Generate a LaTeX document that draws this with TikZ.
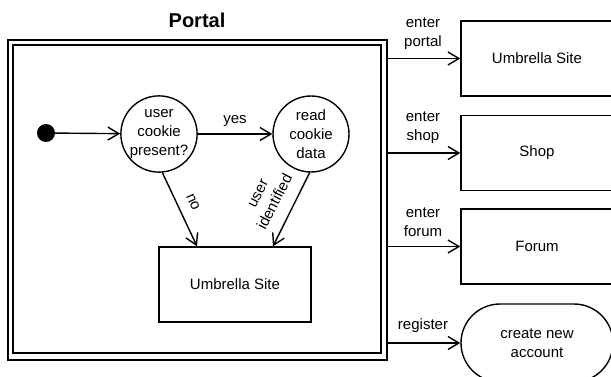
\documentclass[tikz,border=0pt]{standalone}
\usepackage{fontspec}
\setmainfont{Liberation Sans}
\usetikzlibrary{arrows.meta,shapes.misc}
\begin{document}
\begin{tikzpicture}[x=1pt,y=-1pt,
  lw/.style={line width=1.4pt},
  txt/.style={font=\fontsize{15}{19}\selectfont, align=center},
  boxnode/.style={lw, draw, rectangle, minimum width=152pt, minimum height=75pt, txt, inner sep=0pt},
  statenode/.style={lw, draw, circle, minimum size=76pt, inner sep=0pt, txt},
  arr/.style={lw, -{Straight Barb[length=11pt,width=13pt,line width=1.4pt]}},
  lbl/.style={txt, inner sep=0pt}
]
\clip (0,0) rectangle (611,377);
\useasboundingbox (0,0) rectangle (611,377);

% title
\node[font=\fontsize{20}{24}\selectfont\bfseries] (title) at (197,20) {Portal};

% portal frame
\node[lw, draw, rectangle, minimum width=379pt, minimum height=320pt, inner sep=0pt] (portal) at (197.5,200) {};
\node[lw, draw, rectangle, minimum width=368pt, minimum height=308pt, inner sep=0pt] (portalin) at (197,199) {};

% inner states
\node[circle, fill=black, minimum size=18pt, inner sep=0pt] (start) at (46,133) {};
\node[statenode] (c1) at (159,134) {user\\cookie\\present?};
\node[statenode] (c2) at (311,134) {read\\cookie\\data};
\node[boxnode] (ub) at (235,284.5) {Umbrella Site};

\draw[arr] (start) -- (c1);
\draw[arr] (c1) -- node[lbl, above=7pt] (yes) {yes} (c2);
\draw[arr] (c1.-85) -- ([xshift=-38pt]ub.north);
\draw[arr] (c2.-92) -- ([xshift=38pt]ub.north);
\node[lbl, rotate=-65] (no) at (193,202) {no};
\node[lbl, rotate=63] (uid) at (267,198) {user\\identified};

% right side targets
\node[boxnode] (us) at (537,58.5) {Umbrella Site};
\node[boxnode] (shop) at (537,153) {Shop};
\node[boxnode] (forum) at (537,246.5) {Forum};
\node[lw, draw, rounded rectangle, minimum width=152pt, minimum height=78pt, inner sep=0pt, txt] (acc) at (537,343) {create new\\account};

\draw[arr] (portal.east |- us) -- (us.west);
\draw[arr] (portal.east |- shop) -- (shop.west);
\draw[arr] (portal.east |- forum) -- (forum.west);
\draw[arr] (portal.east |- acc) -- (acc.west);

\node[lbl] (l1) at (423,33.5) {enter\\portal};
\node[lbl] (l2) at (423,127.5) {enter\\shop};
\node[lbl] (l3) at (423,222.5) {enter\\forum};
\node[lbl] (l4) at (423,326) {register};
\end{tikzpicture}
\end{document}
